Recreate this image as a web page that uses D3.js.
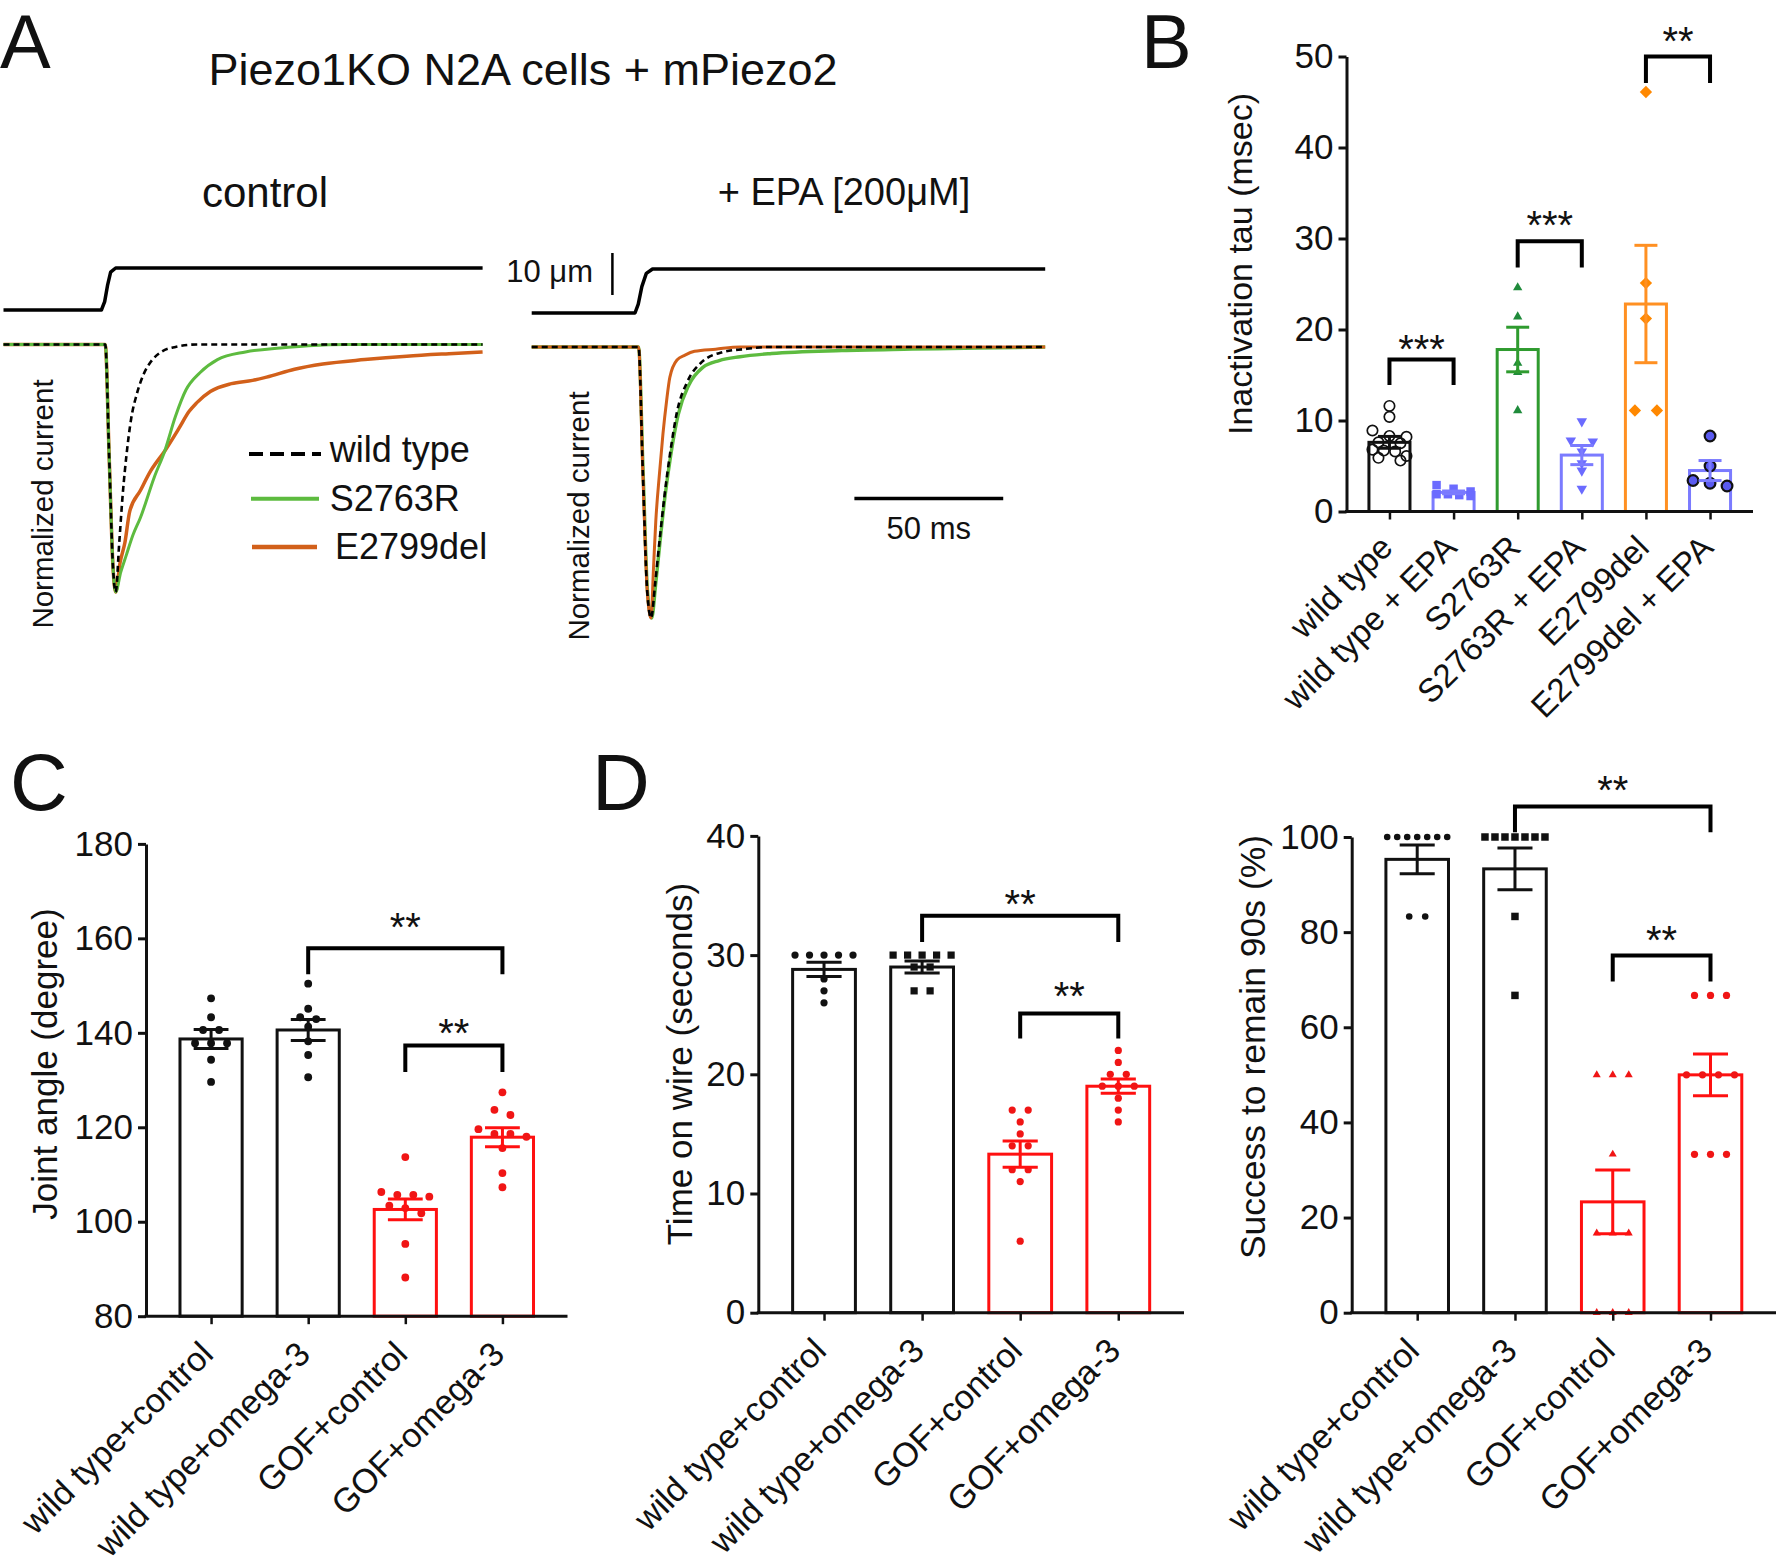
<!DOCTYPE html>
<html><head><meta charset="utf-8">
<script src="https://cdn.jsdelivr.net/npm/d3@7"></script>
<style>
body{margin:0;background:#fff}
svg text{font-family:"Liberation Sans",Arial,Helvetica,sans-serif;fill:#111}
</style>
</head><body>
<svg id="fig" width="1779" height="1563"></svg>
<script>
// ---------------- DATA ----------------
// Panel A: normalized current traces [time ms, normalized current]
const ctrlWT = [[0,0],[34.2,0],[35.5,-0.45],[36.8,-0.9],[37.7,-1],[38.9,-0.8],[40.1,-0.6],[41.3,-0.45],[42.9,-0.3],[44.8,-0.2],[47.1,-0.12],[49.5,-0.07],[53,-0.03],[57.8,-0.01],[64.8,0],[161,0]];
const ctrlS2763R = [[0,0],[34.2,0],[35.5,-0.45],[36.8,-0.9],[37.7,-1],[39.4,-0.92],[41.3,-0.85],[43.5,-0.77],[46.0,-0.7],[50.7,-0.535],[54.2,-0.43],[57.8,-0.29],[61.3,-0.184],[66.0,-0.114],[71.9,-0.061],[81.3,-0.03],[93.1,-0.014],[102.5,-0.005],[115,0],[161,0]];
const ctrlE2799del = [[0,0],[34.2,0],[35.5,-0.45],[36.8,-0.9],[37.7,-1],[39.2,-0.88],[40.8,-0.8],[42.4,-0.675],[46.0,-0.59],[49.5,-0.51],[54.2,-0.43],[58.9,-0.34],[62.4,-0.27],[64.8,-0.237],[69.5,-0.19],[76.6,-0.158],[83.7,-0.145],[88.4,-0.132],[97.8,-0.1],[107.3,-0.079],[121.4,-0.061],[135.5,-0.047],[149.7,-0.037],[161,-0.03]];
const epaWT = [[0,0],[35.9,0],[37.3,-0.45],[38.8,-0.9],[40.1,-1],[41.5,-0.87],[42.9,-0.72],[44.6,-0.55],[46.4,-0.4],[48.8,-0.24],[52.3,-0.128],[57.1,-0.056],[64.1,-0.019],[71.2,-0.008],[80,0],[172.5,0]];
const epaS2763R = [[0,0],[35.9,0],[37.4,-0.45],[38.9,-0.9],[40.3,-1],[41.7,-0.87],[43.1,-0.72],[44.8,-0.55],[46.7,-0.4],[49.2,-0.25],[52.8,-0.14],[57.5,-0.075],[63,-0.05],[70,-0.036],[80.6,-0.024],[104.2,-0.013],[127.8,-0.008],[150,-0.004],[172.5,0]];
const epaE2799del = [[0,0],[35.9,0],[37.3,-0.45],[38.8,-0.9],[40.1,-1],[40.9,-0.82],[41.7,-0.64],[42.9,-0.47],[44.1,-0.32],[45.3,-0.2],[46.4,-0.112],[48.8,-0.048],[51.5,-0.03],[54.7,-0.016],[61.8,-0.008],[70,0],[172.5,0]];
// mechanical stimulus [time ms, displacement µm]
const stimCtrl = [[0,0],[32.9,0],[34,2],[35,6],[36,9],[37.7,10],[161,10]];
const stimEPA = [[0,0],[34.7,0],[35.8,2],[37,6],[38.5,9],[40.6,10],[172.5,10]];
const legendA = ["wild type","S2763R","E2799del"];

// Panel B
const catsB = ["wild type","wild type + EPA","S2763R","S2763R + EPA","E2799del","E2799del + EPA"];
const meanB = [7.6, 2.1, 17.8, 6.2, 22.8, 4.5];
const semB = [0.65, 0.15, 2.45, 1.05, 6.45, 1.1];
const ptsB = [
  [11.6,10.4,8.9,8.3,8.2,7.6,7.5,6.8,6.7,6.6,6.1,5.9,5.6],
  [2.9,2.5,2.2,1.9,1.9,1.8,1.7],
  [24.6,21.4,16.3,15.3,11.1],
  [9.9,7.8,7.7,6.6,5.3,4.5,2.5],
  [46.1,25.1,21.2,11.1,11.1],
  [8.3,5.0,3.4,3.1,2.8]
];
const ticksB = [0,10,20,30,40,50];
const sigB = [{a:0,b:1,top:16.7,leg:13.9,star:18.4,label:"***"},{a:2,b:3,top:29.7,leg:26.8,star:32.0,label:"***"},{a:4,b:5,top:50,leg:47.1,star:52.3,label:"**"}];

// Panels C, D, E
const catsMice = ["wild type+control","wild type+omega-3","GOF+control","GOF+omega-3"];
const meanC = [138.7, 140.6, 102.6, 117.9];
const semC = [2.0, 2.2, 2.2, 2.0];
const ptsC = [
  [147.3,143.3,140.6,140.6,137.8,137.8,137.8,134.3,129.6],
  [150.4,145.1,143.3,142.9,141.3,138.2,135.3,130.6],
  [113.7,106.3,105.7,105.7,105.3,103.4,102.9,101.8,95.3,88.2],
  [127.4,123.7,122.6,119.6,118.6,118.6,118.0,115.6,110.3,107.3]
];
const ticksC = [80,100,120,140,160,180];
const sigC = [{a:1,b:3,top:157.9,leg:152.4,star:163.5,label:"**"},{a:2,b:3,top:137.3,leg:131.7,star:141.0,label:"**"}];

const meanD = [28.8, 29.0, 13.3, 19.0];
const semD = [0.6, 0.5, 1.1, 0.6];
const ptsD = [
  [30,30,30,30,30,28,27,26],
  [30,30,30,30,30,29,29,27,27],
  [17,17,16,15,14,14,12,12,11,6],
  [22,21,20,20,19,19,19,18,17,16]
];
const ticksD = [0,10,20,30,40];
const sigD = [{a:1,b:3,top:33.3,leg:31.1,star:34.7,label:"**"},{a:2,b:3,top:25.1,leg:23.0,star:27.0,label:"**"}];

const meanE = [95.3, 93.3, 23.3, 50.0];
const semE = [3.0, 4.4, 6.7, 4.4];
const ptsE = [
  [100,100,100,100,100,100,100,83.3,83.3],
  [100,100,100,100,100,100,100,83.3,66.7],
  [50,50,50,33.3,16.7,16.7,16.7,0,0,0],
  [66.7,66.7,66.7,50,50,50,50,33.3,33.3,33.3]
];
const ticksE = [0,20,40,60,80,100];
const sigE = [{a:1,b:3,top:106.4,leg:101,star:110.9,label:"**"},{a:2,b:3,top:75.1,leg:69.6,star:79.3,label:"**"}];

// ---------------- DRAW ----------------
const svg = d3.select("#fig");
const F = '"Liberation Sans",Arial,sans-serif';

function txt(x,y,s,size,anchor,rot){
  const t = svg.append("text").attr("font-size",size).attr("text-anchor",anchor||"start").text(s);
  if(rot) t.attr("transform",`translate(${x},${y}) rotate(${rot})`);
  else t.attr("x",x).attr("y",y);
  return t;
}

// Panel letters
txt(0,68,"A",76); txt(1141,68,"B",76); txt(10,810,"C",80); txt(592,810,"D",80);

// ---- Panel A ----
txt(523,85,"Piezo1KO N2A cells + mPiezo2",45,"middle");
txt(265,207,"control",42,"middle");
txt(844,205,"+ EPA [200μM]",38,"middle");

const ctrlX = d3.scaleLinear().domain([0,161]).range([3.5,482.6]);
const epaX = d3.scaleLinear().domain([0,172.5]).range([531.7,1045.2]);
const ctrlY = d3.scaleLinear().domain([-1,0]).range([592,344.5]);
const epaY = d3.scaleLinear().domain([-1,0]).range([618,347]);
const stimYc = d3.scaleLinear().domain([0,10]).range([310,268]);
const stimYe = d3.scaleLinear().domain([0,10]).range([313,269]);

function trace(data,x,y,color,w,dash,curve){
  const line = d3.line().x(d=>x(d[0])).y(d=>y(d[1])).curve(curve||d3.curveMonotoneX);
  const p = svg.append("path").datum(data).attr("d",line).attr("fill","none")
    .attr("stroke",color).attr("stroke-width",w).attr("stroke-linejoin","round");
  if(dash) p.attr("stroke-dasharray",dash);
  return p;
}
const cGreen="#5dbb3f", cOrange="#d2601a";
trace(stimCtrl,ctrlX,stimYc,"#000",3.5,null,d3.curveLinear);
trace(stimEPA,epaX,stimYe,"#000",3.5,null,d3.curveLinear);
trace(ctrlE2799del,ctrlX,ctrlY,cOrange,3.5);
trace(ctrlS2763R,ctrlX,ctrlY,cGreen,3);
trace(ctrlWT,ctrlX,ctrlY,"#000",2.6,"6,4");
trace(epaS2763R,epaX,epaY,cGreen,3.4);
trace(epaE2799del,epaX,epaY,cOrange,3);
trace(epaWT,epaX,epaY,"#000",2.6,"6,4");

// scale bars
const umLen = stimYc(0)-stimYc(10);
svg.append("line").attr("x1",612.4).attr("x2",612.4).attr("y1",253).attr("y2",253+umLen).attr("stroke","#000").attr("stroke-width",2.5);
txt(593,282,"10 μm",31,"end");
svg.append("line").attr("x1",epaX(108.4)).attr("x2",epaX(158.4)).attr("y1",498.5).attr("y2",498.5).attr("stroke","#000").attr("stroke-width",3.5);
txt(epaX(133.4),539,"50 ms",31,"middle");

txt(52.6,504,"Normalized current",29.5,"middle",-90);
txt(589.3,516,"Normalized current",29.5,"middle",-90);

// legend
const legStyles = [{c:"#000",w:4,d:"14,7",y:454,x1:249,x2:321,tx:329.7,ty:462},
                   {c:cGreen,w:4,d:null,y:498.7,x1:251,x2:319,tx:329.7,ty:511},
                   {c:cOrange,w:4.5,d:null,y:547,x1:252,x2:317,tx:335,ty:559}];
legendA.forEach((name,i)=>{
  const s = legStyles[i];
  const l = svg.append("line").attr("x1",s.x1).attr("x2",s.x2).attr("y1",s.y).attr("y2",s.y).attr("stroke",s.c).attr("stroke-width",s.w);
  if(s.d) l.attr("stroke-dasharray",s.d);
  txt(s.tx,s.ty,name,36);
});

// ---- Bar panels ----
function swarm(vals,y,thresh,maxSp,maxW){
  const sorted = vals.slice().sort((a,b)=>b-a);
  const out=[]; let i=0;
  while(i<sorted.length){
    const y0=y(sorted[i]); let j=i;
    while(j<sorted.length && Math.abs(y(sorted[j])-y0)<thresh) j++;
    const n=j-i, sp = n>1?Math.min(maxSp,maxW/(n-1)):0;
    for(let k=0;k<n;k++) out.push({v:sorted[i+k],dx:(k-(n-1)/2)*sp});
    i=j;
  }
  return out;
}

function barPanel(cfg){
  const g = svg.append("g");
  const y = d3.scaleLinear().domain(cfg.domain).range(cfg.yRange);
  const x = d3.scalePoint().domain(cfg.cats).range([cfg.axisX,cfg.xEnd]).padding(0.67);
  const bw = x.step()*0.64;
  const base = y(cfg.domain[0]);
  // bars
  cfg.cats.forEach((c,i)=>{
    g.append("rect").attr("x",x(c)-bw/2).attr("width",bw).attr("y",y(cfg.means[i])).attr("height",base-y(cfg.means[i]))
      .attr("fill","#fff").attr("stroke",cfg.colors[i]).attr("stroke-width",cfg.barSW);
  });
  // points
  cfg.cats.forEach((c,i)=>{
    const m = cfg.markers[i];
    const sw = swarm(cfg.pts[i],y,cfg.thresh,cfg.maxSp,cfg.maxW);
    const sym = d3.symbol().type(m.type).size(m.size);
    g.selectAll(null).data(sw).join("path").attr("d",sym())
      .attr("transform",d=>`translate(${x(c)+d.dx},${y(d.v)}) rotate(${m.rot||0})`)
      .attr("fill",m.fill).attr("stroke",m.stroke||"none").attr("stroke-width",m.sw||0);
  });
  // error bars
  cfg.cats.forEach((c,i)=>{
    const cx=x(c), hi=y(cfg.means[i]+cfg.sems[i]), lo=y(cfg.means[i]-cfg.sems[i]), cw=bw*0.28;
    const col=cfg.colors[i];
    g.append("line").attr("x1",cx).attr("x2",cx).attr("y1",hi).attr("y2",lo).attr("stroke",col).attr("stroke-width",cfg.barSW);
    [hi,lo].forEach(yy=>g.append("line").attr("x1",cx-cw).attr("x2",cx+cw).attr("y1",yy).attr("y2",yy).attr("stroke",col).attr("stroke-width",cfg.barSW));
  });
  // axes
  const ya = g.append("g").attr("transform",`translate(${cfg.axisX},0)`)
    .call(d3.axisLeft(y).tickValues(cfg.ticks).tickSize(8).tickSizeOuter(0).tickPadding(5).tickFormat(d3.format("d")));
  ya.select(".domain").attr("stroke-width",3).attr("stroke","#111");
  ya.selectAll(".tick line").attr("stroke-width",3).attr("stroke","#111");
  ya.selectAll(".tick text").attr("font-size",cfg.tickFont).attr("font-family",F).attr("fill","#111");
  const xa = g.append("g").attr("transform",`translate(0,${base})`)
    .call(d3.axisBottom(x).tickSize(8).tickSizeOuter(0).tickFormat(""));
  xa.select(".domain").attr("stroke-width",3).attr("stroke","#111").attr("d",`M${cfg.axisX-1.5},0H${cfg.xEnd}`);
  xa.selectAll(".tick line").attr("stroke-width",2.5).attr("stroke","#111");
  // category labels
  cfg.cats.forEach(c=>{
    g.append("text").attr("font-size",cfg.catFont).attr("text-anchor","end")
      .attr("transform",`translate(${x(c)+cfg.labDx},${base+cfg.labDy}) rotate(-45)`).text(c);
  });
  // y label
  g.append("text").attr("font-size",cfg.ylabFont).attr("text-anchor","middle")
    .attr("transform",`translate(${cfg.ylab[0]},${cfg.ylab[1]}) rotate(-90)`).text(cfg.ylabel);
  // significance brackets
  cfg.sig.forEach(s=>{
    const xa_=x(cfg.cats[s.a]), xb=x(cfg.cats[s.b]);
    g.append("path").attr("d",`M${xa_},${y(s.leg)}V${y(s.top)}H${xb}V${y(s.leg)}`)
      .attr("fill","none").attr("stroke","#000").attr("stroke-width",4).attr("stroke-linejoin","miter");
    g.append("text").attr("x",(xa_+xb)/2).attr("y",y(s.star)+19).attr("font-size",40).attr("text-anchor","middle").text(s.label);
  });
}

const blue="#7b7bff";
barPanel({cats:catsB,means:meanB,sems:semB,pts:ptsB,domain:[0,50],yRange:[511.5,56.5],axisX:1346.5,xEnd:1753,ticks:ticksB,
  colors:["#111",blue,"#2f9b2f",blue,"#ff9022",blue],barSW:3,
  markers:[{type:d3.symbolCircle,size:85,fill:"none",stroke:"#111",sw:1.7},
           {type:d3.symbolSquare,size:72,fill:"#6b6bff"},
           {type:d3.symbolTriangle,size:38,fill:"#1f8b3b"},
           {type:d3.symbolTriangle,size:48,fill:"#6b6bff",rot:180},
           {type:d3.symbolSquare,size:76,fill:"#ff8800",rot:45},
           {type:d3.symbolCircle,size:90,fill:"#5a5af0",stroke:"#111",sw:2.2}],
  thresh:7,maxSp:22,maxW:34,tickFont:35,catFont:33,labDx:5,labDy:38,ylabel:"Inactivation tau (msec)",ylab:[1252,264],ylabFont:34,sig:sigB});

barPanel({cats:catsMice,means:meanC,sems:semC,pts:ptsC,domain:[80,180],yRange:[1316.2,843.9],axisX:146,xEnd:567.5,ticks:ticksC,
  colors:["#111","#111","#ff1010","#ff1010"],barSW:3,
  markers:[{type:d3.symbolCircle,size:48,fill:"#111"},{type:d3.symbolCircle,size:48,fill:"#111"},
           {type:d3.symbolCircle,size:48,fill:"#f01515"},{type:d3.symbolCircle,size:48,fill:"#f01515"}],
  thresh:8,maxSp:16,maxW:58,tickFont:35,catFont:34,labDx:4,labDy:40,ylabel:"Joint angle (degree)",ylab:[57,1064],ylabFont:35,sig:sigC});

barPanel({cats:catsMice,means:meanD,sems:semD,pts:ptsD,domain:[0,40],yRange:[1312.7,835.9],axisX:758.3,xEnd:1184,ticks:ticksD,
  colors:["#111","#111","#ff1010","#ff1010"],barSW:3,
  markers:[{type:d3.symbolCircle,size:41,fill:"#111"},{type:d3.symbolSquare,size:52,fill:"#111"},
           {type:d3.symbolCircle,size:41,fill:"#f01515"},{type:d3.symbolCircle,size:41,fill:"#f01515"}],
  thresh:8,maxSp:16,maxW:58,tickFont:35,catFont:34,labDx:4,labDy:40,ylabel:"Time on wire (seconds)",ylab:[692,1064],ylabFont:35,sig:sigD});

barPanel({cats:catsMice,means:meanE,sems:semE,pts:ptsE,domain:[0,100],yRange:[1312.7,837],axisX:1351.7,xEnd:1776,ticks:ticksE,
  colors:["#111","#111","#ff1010","#ff1010"],barSW:3,
  markers:[{type:d3.symbolCircle,size:34,fill:"#111"},{type:d3.symbolSquare,size:56,fill:"#111"},
           {type:d3.symbolTriangle,size:28,fill:"#f01515"},{type:d3.symbolCircle,size:41,fill:"#f01515"}],
  thresh:8,maxSp:16,maxW:60,tickFont:35,catFont:34,labDx:4,labDy:40,ylabel:"Success to remain 90s (%)",ylab:[1265,1047],ylabFont:35.5,sig:sigE});
</script>
</body></html>
